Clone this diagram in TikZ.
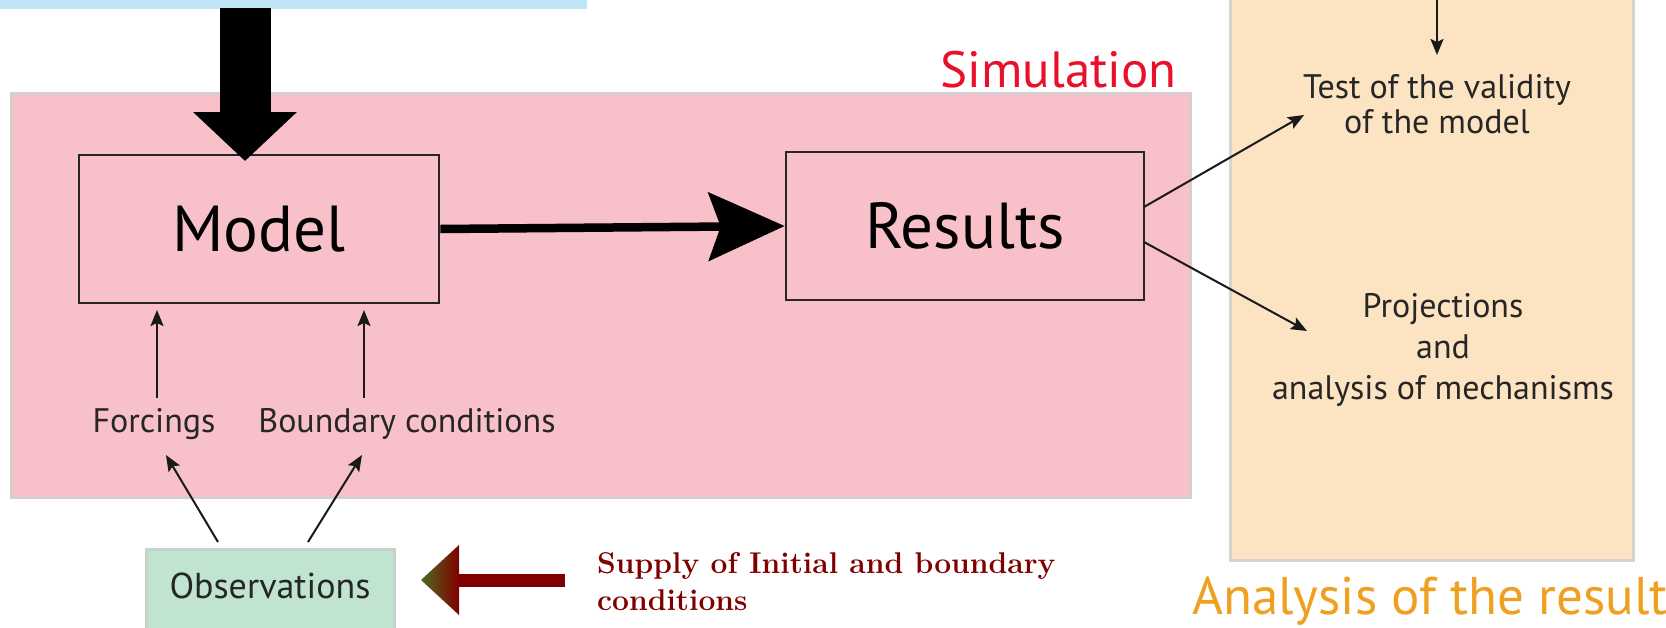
\documentclass[tikz,border=0pt]{standalone}
\usepackage{fontspec}
\newfontfamily\myfont{PT Sans}
\usetikzlibrary{arrows.meta}
\definecolor{simpink}{HTML}{F8C0C8}
\definecolor{simborder}{HTML}{D8CCCE}
\definecolor{anaorange}{HTML}{FCE4C2}
\definecolor{anaborder}{HTML}{D8D4CC}
\definecolor{topblue}{HTML}{C0E6F6}
\definecolor{obsgreen}{HTML}{C0E4D0}
\definecolor{obsborder}{HTML}{C8D2CC}
\definecolor{simred}{HTML}{E8102A}
\definecolor{anatitle}{HTML}{F0A020}
\definecolor{supplyred}{HTML}{800000}
\definecolor{supplyolive}{HTML}{4E6A20}
\tikzset{
  panel/.style={rectangle, inner sep=0pt, line width=3pt},
  mainbox/.style={rectangle, draw=black!85, line width=2.6pt, fill=simpink, inner sep=0pt, minimum width=358pt, minimum height=148pt, font=\myfont\fontsize{65}{72}\selectfont},
  small/.style={font=\myfont\fontsize{34}{35}\selectfont, align=center, text=black!85, inner sep=0pt},
  sarrow/.style={draw=black!90, line width=2pt, -{Stealth[length=16pt,width=13pt,inset=3pt]}},
}
\begin{document}
\begin{tikzpicture}[x=1pt,y=-1pt]
\useasboundingbox (0,0) rectangle (1666,627);
\begin{scope}
\clip (0,0) rectangle (1666,627);
% panels
\node[panel, fill=topblue, minimum width=592pt, minimum height=19pt] (blue) at (291,-1) {};
\node[panel, fill=simpink, draw=simborder, minimum width=1179pt, minimum height=404pt] (sim) at (600.5,295) {};
\node[panel, fill=anaorange, draw=anaborder, minimum width=403pt, minimum height=580pt] (ana) at (1431.5,270) {};
\node[panel, fill=obsgreen, draw=obsborder, minimum width=248pt, minimum height=100pt] (obs) at (270,599) {};
\node[small, font=\myfont\fontsize{36}{40}\selectfont, anchor=center] (obstext) at (270,586) {Observations};
% titles
\node[font=\myfont\fontsize{51}{58}\selectfont, text=simred, anchor=base east, inner sep=0pt] (simtitle) at (1177,87) {Simulation};
\node[font=\myfont\fontsize{53}{60}\selectfont, text=anatitle, anchor=base west, inner sep=0pt] (anatitle) at (1192,614) {Analysis of the results};
% main boxes
\node[mainbox, minimum width=360pt] (model) at (259,229) {Model};
\node[mainbox] (results) at (965,226) {Results};
% small labels
\node[small] (test) at (1437,104) {Test of the validity\\of the model};
\node[small, font=\myfont\fontsize{34}{41}\selectfont] (proj) at (1443,350) {Projections\\and\\analysis of mechanisms};
\node[small] (forc) at (154,424) {Forcings};
\node[small] (bound) at (407,424) {Boundary conditions};
% big arrow from top
\coordinate (bigtop) at (245,8);
\coordinate (bigtip) at (245,161);
\draw[line width=51pt, -{Triangle[length=49pt,width=101pt]}] (bigtop) -- (bigtip);
% model -> results
\draw[line width=8.5pt, -{Stealth[length=76pt,width=68pt,inset=12pt]}] (model.east) -- (results.west);
% top arrow in analysis panel
\coordinate (anatop) at (1437,-5);
\coordinate (anatip) at (1437,55);
\draw[sarrow] (anatop) -- (anatip);
% results -> analyses
\coordinate (r1) at (1144,207);
\coordinate (r2) at (1144,242);
\coordinate (t1) at (1304,115);
\coordinate (t2) at (1307,331);
\draw[sarrow] (r1) -- (t1);
\draw[sarrow] (r2) -- (t2);
% forcings / boundary -> model
\coordinate (f0) at (157,398);
\coordinate (f1) at (157,310);
\coordinate (b0) at (364,398);
\coordinate (b1) at (364,310);
\draw[sarrow] (f0) -- (f1);
\draw[sarrow] (b0) -- (b1);
% observations -> labels
\coordinate (o1) at (218,542);
\coordinate (o2) at (308,542);
\coordinate (fo) at (166,455);
\coordinate (bo) at (362,455);
\draw[sarrow] (o1) -- (fo);
\draw[sarrow] (o2) -- (bo);
% supply arrow
\coordinate (stail) at (565,580);
\coordinate (sbase) at (459,580);
\coordinate (stip) at (421,580);
\draw[supplyred, line width=13pt] (stail) -- ([xshift=-2pt]sbase);
\shade[left color=supplyolive, right color=supplyred] (stip) -- (459,545) -- (459,615) -- cycle;
\node[font=\bfseries\fontsize{30}{37}\selectfont, text=supplyred, align=left, anchor=base west, inner sep=0pt] (supply) at (597,610) {Supply of Initial and boundary\\conditions};
\end{scope}
\end{tikzpicture}
\end{document}
